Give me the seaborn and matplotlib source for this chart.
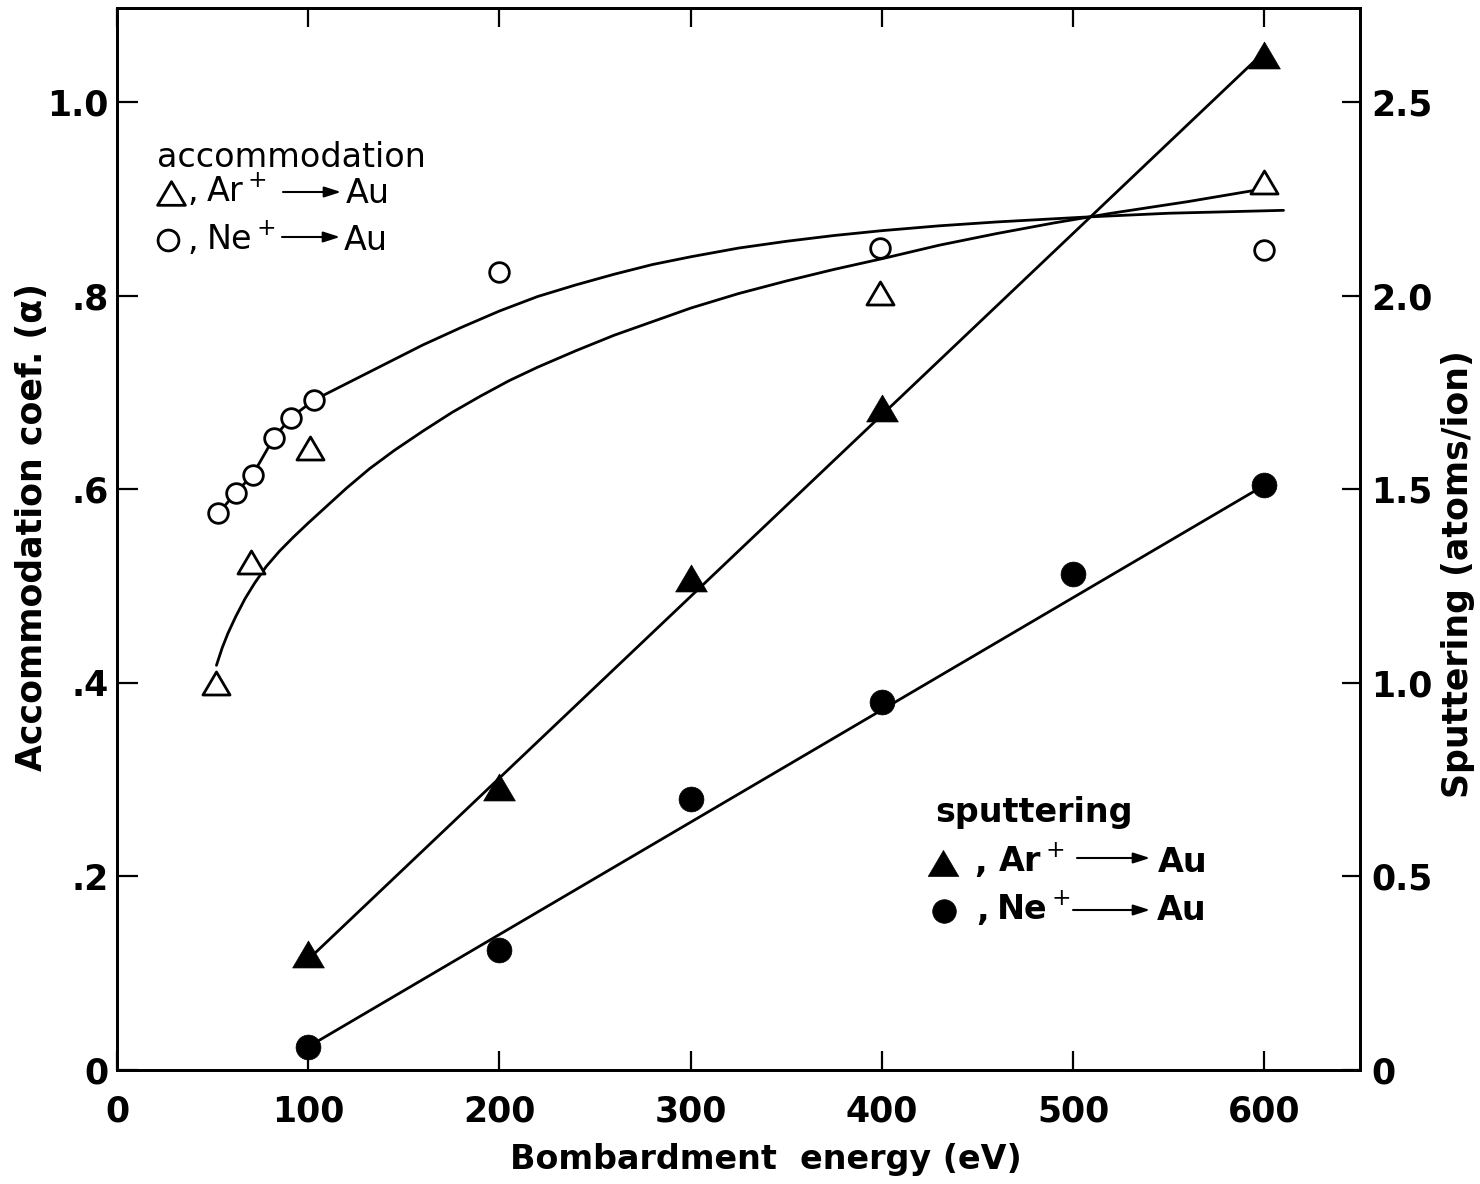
import matplotlib
matplotlib.use("Agg")
import matplotlib.pyplot as plt
from matplotlib import font_manager
from matplotlib.lines import Line2D
from matplotlib.path import Path
import seaborn as sns

# Accommodation coefficient (left axis), open symbols
ar_acc_energy = [52, 70, 101, 399, 600]
ar_acc_alpha = [0.400, 0.525, 0.643, 0.803, 0.917]
ne_acc_energy = [53, 62, 71, 82, 91, 103, 200, 399, 600]
ne_acc_alpha = [0.575, 0.596, 0.615, 0.653, 0.674, 0.692, 0.824, 0.849, 0.847]

# Smooth trend curves drawn through the accommodation data
ar_curve_energy = [52, 55, 58, 62, 67, 72, 78, 85, 92, 100, 110, 120, 132, 145, 160,
                   175, 190, 205, 220, 240, 260, 280, 300, 325, 350, 375, 400, 430,
                   460, 490, 520, 560, 596]
ar_curve_alpha = [0.418, 0.436, 0.451, 0.468, 0.487, 0.503, 0.520, 0.536, 0.550, 0.565,
                  0.583, 0.601, 0.621, 0.640, 0.660, 0.679, 0.696, 0.712, 0.726, 0.743,
                  0.759, 0.773, 0.787, 0.802, 0.815, 0.827, 0.838, 0.852, 0.864, 0.875,
                  0.885, 0.897, 0.909]
ne_curve_energy = [53, 62, 71, 82, 91, 103, 120, 140, 160, 180, 200, 220, 240, 260,
                   280, 300, 325, 350, 375, 400, 430, 460, 506, 550, 610]
ne_curve_alpha = [0.575, 0.596, 0.615, 0.653, 0.674, 0.692, 0.709, 0.729, 0.749, 0.767,
                  0.784, 0.799, 0.811, 0.822, 0.832, 0.840, 0.849, 0.856, 0.862, 0.867,
                  0.872, 0.876, 0.881, 0.885, 0.888]

# Sputtering yield (right axis), filled symbols
ar_sput_energy = [100, 200, 300, 400, 600]
ar_sput_yield = [0.30, 0.73, 1.27, 1.71, 2.62]
ne_sput_energy = [100, 200, 300, 400, 500, 600]
ne_sput_yield = [0.06, 0.31, 0.70, 0.95, 1.28, 1.51]

# Straight-line fits of the sputtering yield
ar_fit_energy = [101, 598]
ar_fit_yield = [0.29, 2.62]
ne_fit_energy = [100, 600]
ne_fit_yield = [0.06, 1.51]

x_ticks = [0, 100, 200, 300, 400, 500, 600]
x_tick_labels = ["0", "100", "200", "300", "400", "500", "600"]
left_ticks = [0, 0.2, 0.4, 0.6, 0.8, 1.0]
left_tick_labels = ["0", ".2", ".4", ".6", ".8", "1.0"]
right_ticks = [0, 0.5, 1.0, 1.5, 2.0, 2.5]
right_tick_labels = ["0", "0.5", "1.0", "1.5", "2.0", "2.5"]

sns.set_style("ticks")
names = {f.name for f in font_manager.fontManager.ttflist}
NARROW = "Liberation Sans Narrow" if "Liberation Sans Narrow" in names else "DejaVu Sans"
plt.rcParams["font.family"] = ["DejaVu Sans"]
plt.rcParams["mathtext.fontset"] = "dejavusans"
for key in ("text.color", "axes.labelcolor", "xtick.color", "ytick.color",
            "axes.edgecolor"):
    plt.rcParams[key] = "black"

W, H = 1480, 1184
fig = plt.figure(figsize=(W / 100, H / 100), dpi=100)
fig.patch.set_facecolor("white")
ax = fig.add_axes([117 / W, 1 - 1070 / H, 1243 / W, 1062 / H])
ax2 = ax.twinx()

tri = Path([(-1, -0.85), (1, -0.85), (0, 0.85), (-1, -0.85)],
           [Path.MOVETO, Path.LINETO, Path.LINETO, Path.CLOSEPOLY])

LW = 2.0
# accommodation curves and symbols
sns.lineplot(x=ar_curve_energy, y=ar_curve_alpha, ax=ax, color="black", lw=LW,
             sort=False, estimator=None, zorder=2)
sns.lineplot(x=ne_curve_energy, y=ne_curve_alpha, ax=ax, color="black", lw=LW,
             sort=False, estimator=None, zorder=2)
sns.scatterplot(x=ar_acc_energy, y=ar_acc_alpha, ax=ax, marker=tri, s=380,
                color="white", edgecolor="black", linewidth=2.0, zorder=4)
sns.scatterplot(x=ne_acc_energy, y=ne_acc_alpha, ax=ax, marker="o", s=200,
                color="white", edgecolor="black", linewidth=2.0, zorder=4)

# sputtering lines and symbols
sns.lineplot(x=ar_fit_energy, y=ar_fit_yield, ax=ax2, color="black", lw=LW,
             sort=False, estimator=None, zorder=2)
sns.lineplot(x=ne_fit_energy, y=ne_fit_yield, ax=ax2, color="black", lw=LW,
             sort=False, estimator=None, zorder=2)
sns.scatterplot(x=ar_sput_energy, y=ar_sput_yield, ax=ax2, marker=tri, s=520,
                color="black", edgecolor="black", linewidth=0.5, zorder=4)
sns.scatterplot(x=ne_sput_energy, y=ne_sput_yield, ax=ax2, marker="o", s=320,
                color="black", edgecolor="black", linewidth=0.5, zorder=4)

ax.set_xlim(0, 650)
ax.set_ylim(0, 1.097)
ax2.set_ylim(0, 2.5 * 1.097)

ax.set_xticks(x_ticks)
ax.set_xticklabels(x_tick_labels, family=NARROW, fontweight="bold", fontsize=25)
ax.set_yticks(left_ticks)
ax.set_yticklabels(left_tick_labels, family=NARROW, fontweight="bold", fontsize=25)
ax2.set_yticks(right_ticks)
ax2.set_yticklabels(right_tick_labels, fontweight="bold", fontsize=25)

ax.tick_params(axis="x", direction="in", length=14, width=1.6, top=True, pad=18)
ax.tick_params(axis="y", direction="in", length=15, width=1.6, pad=6)
ax2.tick_params(axis="y", direction="in", length=13, width=1.6, pad=8)
for a in (ax, ax2):
    for sp in a.spines.values():
        sp.set_visible(True)
        sp.set_linewidth(2.0)
        sp.set_color("black")
    a.set_xlabel("")
    a.set_ylabel("")
    a.grid(False)

def fp(x, y):
    return (x / W, 1 - y / H)

# axis titles
fig.text(*fp(766, 1160), "Bombardment  energy (eV)", ha="center", va="center",
         fontsize=24, fontweight="bold")
fig.text(*fp(32, 527), "Accommodation coef. (α)", ha="center", va="center",
         rotation=90, fontsize=25, fontweight="bold")
fig.text(*fp(1458, 574), "Sputtering (atoms/ion)", ha="center", va="center",
         rotation=90, fontsize=25, fontweight="bold")

# keys for the two groups of symbols
def arrow(x0, x1, y):
    ax.annotate("", xy=(x1, H - y), xytext=(x0, H - y), xycoords="figure pixels",
                textcoords="figure pixels",
                arrowprops=dict(arrowstyle="-|>,head_length=1.0,head_width=0.32",
                                lw=1.5, color="black", shrinkA=0, shrinkB=0))

def symbol(x, y, marker, ms, filled):
    fig.add_artist(Line2D([x / W], [1 - y / H], transform=fig.transFigure,
                          marker=marker, ms=ms, mew=2.0 if not filled else 0.5,
                          mfc="black" if filled else "white", mec="black", ls="none"))

fig.text(*fp(157, 167), "accommodation", ha="left", va="baseline", fontsize=24)
symbol(171, 193, tri, 20, False)
fig.text(*fp(187, 201), ",", ha="left", va="baseline", fontsize=24)
fig.text(*fp(206, 202), "Ar$^+$", ha="left", va="baseline", fontsize=24)
arrow(283, 341, 192)
fig.text(*fp(346, 203), "Au", ha="left", va="baseline", fontsize=24)
symbol(168, 240, "o", 15, False)
fig.text(*fp(187, 250), ",", ha="left", va="baseline", fontsize=24)
fig.text(*fp(206, 250), "Ne$^+$", ha="left", va="baseline", fontsize=24)
arrow(282, 340, 237)
fig.text(*fp(344, 250), "Au", ha="left", va="baseline", fontsize=24)

fig.text(*fp(935, 822), "sputtering", ha="left", va="baseline", fontsize=24,
         fontweight="bold")
symbol(943, 863, tri, 22, True)
fig.text(*fp(974, 872), ",", ha="left", va="baseline", fontsize=24, fontweight="bold")
fig.text(*fp(998, 872), "Ar$^+$", ha="left", va="baseline", fontsize=24,
         fontweight="bold")
arrow(1077, 1150, 858)
fig.text(*fp(1158, 872), "Au", ha="left", va="baseline", fontsize=24, fontweight="bold")
symbol(944, 911, "o", 17, True)
fig.text(*fp(976, 920), ",", ha="left", va="baseline", fontsize=24, fontweight="bold")
fig.text(*fp(996, 920), "Ne$^+$", ha="left", va="baseline", fontsize=24,
         fontweight="bold")
arrow(1073, 1150, 910)
fig.text(*fp(1157, 920), "Au", ha="left", va="baseline", fontsize=24, fontweight="bold")

fig.savefig("out.png", dpi=100, facecolor="white")
